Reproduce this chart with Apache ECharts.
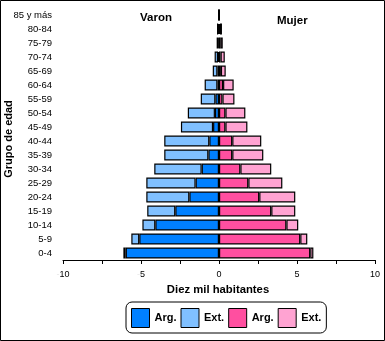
<!DOCTYPE html>
<html>
<head>
<meta charset="utf-8">
<script src="https://cdn.jsdelivr.net/npm/echarts@6/dist/echarts.min.js"></script>
<style>
html,body{margin:0;padding:0;background:#fff;}
#main{width:385px;height:341px;}
</style>
</head>
<body>
<div id="main"></div>
<script>
// Age groups (bottom to top)
var categories = ['0-4','5-9','10-14','15-19','20-24','25-29','30-34','35-39','40-44','45-49','50-54','55-59','60-64','65-69','70-74','75-79','80-84','85 y más'];
// Values in "diez mil habitantes"
var varonArg = [5.98, 5.11, 4.08, 2.80, 1.90, 1.50, 1.11, 0.68, 0.62, 0.38, 0.26, 0.23, 0.10, 0.10, 0.06, 0.03, 0.05, 0.02];
var varonExt = [0.15, 0.51, 0.83, 1.80, 2.76, 3.16, 3.04, 2.83, 2.89, 2.06, 1.74, 0.94, 0.82, 0.30, 0.22, 0.12, 0.08, 0.01];
var mujerArg = [5.85, 5.21, 4.32, 3.35, 2.58, 1.88, 1.37, 0.85, 0.85, 0.41, 0.41, 0.22, 0.26, 0.12, 0.10, 0.08, 0.06, 0.02];
var mujerExt = [0.20, 0.45, 0.76, 1.54, 2.31, 2.18, 1.98, 1.99, 1.86, 1.41, 1.28, 0.77, 0.68, 0.31, 0.27, 0.16, 0.13, 0.01];
var legendLabels = ['Arg.', 'Ext.', 'Arg.', 'Ext.'];
var xTicks = {min: -10, max: 10, step: 2.5, labelStep: 5};

var FONT = '"Liberation Sans", Arial, sans-serif';
var colors = ['#0080FF', '#80C0FF', '#FF4FA0', '#FFA3D2'];
var names = ['Arg. (Varon)', 'Ext. (Varon)', 'Arg. (Mujer)', 'Ext. (Mujer)'];
var datas = [
  varonArg.map(function(v){return -v;}),
  varonExt.map(function(v){return -v;}),
  mujerArg,
  mujerExt
];

var series = datas.map(function(d, i){
  return {
    name: names[i],
    type: 'bar',
    stack: 'pyr',
    data: d,
    barWidth: 11,
    itemStyle: {color: colors[i], borderColor: '#000', borderWidth: 1.2},
    emphasis: {disabled: true},
    animation: false
  };
});

var chart = echarts.init(document.getElementById('main'), null, {renderer: 'canvas'});
chart.setOption({
  animation: false,
  textStyle: {fontFamily: FONT},
  grid: {left: 63, right: 10, top: 8, bottom: 81, containLabel: false},
  xAxis: {
    type: 'value',
    min: xTicks.min, max: xTicks.max, interval: xTicks.step,
    splitLine: {show: false},
    axisLine: {show: true, lineStyle: {color: '#000', width: 1}},
    axisTick: {show: true, length: 4, lineStyle: {color: '#000'}},
    axisLabel: {
      margin: 10,
      fontSize: 9,
      color: '#000',
      fontFamily: FONT,
      formatter: function(v){
        if (Math.abs(v % xTicks.labelStep) > 1e-9) return '';
        if (v < 0) return '{m|-}' + Math.abs(v);
        return String(v);
      },
      rich: {m: {color: '#e6e6e6', fontSize: 9, fontFamily: FONT}}
    }
  },
  yAxis: {
    type: 'category',
    data: categories,
    axisLine: {show: false},
    axisTick: {show: false},
    axisLabel: {margin: 11, fontSize: 9.5, color: '#000', fontFamily: FONT}
  },
  legend: {
    data: names,
    left: 126, top: 302,
    orient: 'horizontal',
    itemWidth: 18, itemHeight: 19,
    itemGap: 4,
    padding: [6, 5, 5, 5],
    borderColor: '#000', borderWidth: 1, borderRadius: 6,
    icon: 'rect',
    selectedMode: false,
    itemStyle: {borderColor: '#000', borderWidth: 1},
    textStyle: {fontSize: 11, fontWeight: 'bold', color: '#000', fontFamily: FONT},
    formatter: function(n){ return legendLabels[names.indexOf(n)]; }
  },
  graphic: [
    {type: 'rect', shape: {x: 0.5, y: 0.5, width: 384, height: 340}, style: {fill: 'none', stroke: '#000', lineWidth: 1}, silent: true},
    {type: 'text', x: 140, y: 18, style: {text: 'Varon', font: 'bold 11.5px ' + FONT, fill: '#000', verticalAlign: 'middle'}},
    {type: 'text', x: 277, y: 21, style: {text: 'Mujer', font: 'bold 11.5px ' + FONT, fill: '#000', verticalAlign: 'middle'}},
    {type: 'text', x: 218, y: 290, style: {text: 'Diez mil habitantes', font: 'bold 11.3px ' + FONT, fill: '#000', align: 'center', verticalAlign: 'middle'}},
    {type: 'text', x: 9, y: 139, rotation: Math.PI / 2, style: {text: 'Grupo de edad', font: 'bold 11px ' + FONT, fill: '#000', align: 'center', verticalAlign: 'middle'}}
  ],
  series: series
});
</script>
</body>
</html>
